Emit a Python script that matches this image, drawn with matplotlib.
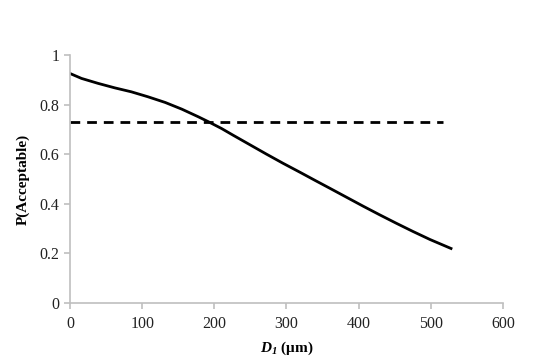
import matplotlib
matplotlib.use("Agg")
import matplotlib.pyplot as plt

plt.rcParams["font.family"] = "Liberation Serif"
plt.rcParams["mathtext.fontset"] = "custom"
plt.rcParams["mathtext.rm"] = "Liberation Serif"
plt.rcParams["mathtext.it"] = "Liberation Serif:italic"
plt.rcParams["mathtext.bf"] = "Liberation Serif:bold"
plt.rcParams["mathtext.bfit"] = "Liberation Serif:italic:bold"

# curve
d1 = [0, 16, 39, 62, 85, 108, 132, 155, 178, 192, 210, 226, 249, 272,
      295, 319, 340, 360, 383, 406, 429, 452, 475, 499, 528]
p_acc = [0.926, 0.906, 0.886, 0.868, 0.852, 0.832, 0.809, 0.782, 0.751,
         0.731, 0.704, 0.677, 0.639, 0.601, 0.564, 0.527, 0.494, 0.463,
         0.427, 0.391, 0.356, 0.322, 0.289, 0.256, 0.220]

# threshold (dashed)
thr_x = [0, 517]
thr_y = [0.73, 0.73]

xticks = [0, 100, 200, 300, 400, 500, 600]
yticks = [0, 0.2, 0.4, 0.6, 0.8, 1]
ytick_labels = ["0", "0.2", "0.4", "0.6", "0.8", "1"]

fig = plt.figure(figsize=(5.52, 3.58), dpi=100)
ax = fig.add_axes([0.1268, 0.1536, 0.7844, 0.6924])

ax.plot(d1, p_acc, color="black", lw=2, solid_joinstyle="round")
ax.plot(thr_x, thr_y, color="black", lw=2, linestyle=(0, (3.5, 2.5)))

ax.set_xlim(0, 600)
ax.set_ylim(0, 1)
ax.set_xticks(xticks)
ax.set_yticks(yticks)
ax.set_yticklabels(ytick_labels)

grey = "#bfbfbf"
for s in ["top", "right"]:
    ax.spines[s].set_visible(False)
for s in ["left", "bottom"]:
    ax.spines[s].set_color(grey)
    ax.spines[s].set_linewidth(1.2)
ax.tick_params(colors=grey, labelcolor="#222222", labelsize=11.5, length=4,
               width=1.2, direction="out")
ax.tick_params(axis="x", pad=5)

ax.set_ylabel("P(Acceptable)", fontsize=11, fontweight="bold", labelpad=7)
ax.set_xlabel(r"$\mathbfit{D}_{\mathbfit{1}}$ (μm)", fontsize=11,
              fontweight="bold", labelpad=6)

fig.savefig("out.png", dpi=100)
